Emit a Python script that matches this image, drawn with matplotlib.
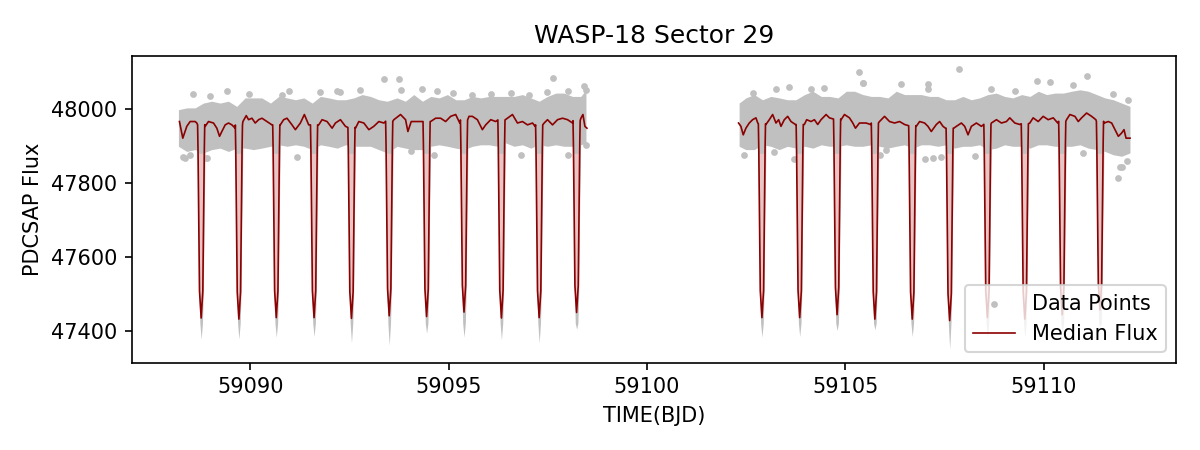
import matplotlib
matplotlib.use("Agg")
import matplotlib.pyplot as plt
import numpy as np

# median flux, first orbit block (outside transits)
seg1_time = [59088.216, 59088.300, 59088.401, 59088.485, 59088.611, 59088.653,
             59088.864, 59088.948, 59089.074, 59089.158, 59089.226, 59089.284, 59089.369, 59089.453, 59089.537, 59089.621,
             59089.815, 59089.899, 59089.958, 59090.042, 59090.126, 59090.211, 59090.295, 59090.421, 59090.547,
             59090.757, 59090.842, 59090.926, 59091.052, 59091.137, 59091.263, 59091.364, 59091.473,
             59091.726, 59091.810, 59091.936, 59092.063, 59092.147, 59092.273, 59092.399,
             59092.652, 59092.736, 59092.863, 59092.989, 59093.114, 59093.241, 59093.367,
             59093.620, 59093.788, 59093.914, 59093.973, 59094.057, 59094.209, 59094.335,
             59094.545, 59094.672, 59094.798, 59094.924, 59095.050, 59095.177, 59095.280,
             59095.513, 59095.598, 59095.724, 59095.850, 59095.934, 59096.061, 59096.187,
             59096.481, 59096.608, 59096.734, 59096.860, 59096.987, 59097.113, 59097.180,
             59097.407, 59097.491, 59097.618, 59097.744, 59097.870, 59097.996, 59098.123,
             59098.333, 59098.384, 59098.434, 59098.485]
seg1_flux = [47966, 47921, 47953, 47966, 47966, 47962,
             47953, 47966, 47962, 47948, 47926, 47939, 47957, 47962, 47957, 47948,
             47966, 47982, 47971, 47975, 47962, 47971, 47975, 47966, 47957,
             47957, 47971, 47975, 47957, 47944, 47962, 47985, 47957,
             47957, 47971, 47966, 47948, 47962, 47971, 47953,
             47948, 47966, 47962, 47944, 47953, 47966, 47962,
             47971, 47985, 47971, 47939, 47966, 47966, 47966,
             47966, 47975, 47975, 47966, 47980, 47985, 47962,
             47980, 47980, 47971, 47944, 47957, 47971, 47966,
             47975, 47985, 47962, 47966, 47957, 47962, 47953,
             47962, 47971, 47957, 47971, 47975, 47971, 47962,
             47975, 47985, 47953, 47948]

# second orbit block
seg2_time = [59102.306, 59102.365, 59102.424, 59102.491, 59102.576, 59102.660, 59102.744, 59102.790,
             59102.996, 59103.081, 59103.165, 59103.249, 59103.316, 59103.375, 59103.459, 59103.544, 59103.628, 59103.740,
             59103.964, 59104.023, 59104.133, 59104.217, 59104.301, 59104.385, 59104.512, 59104.596,
             59104.890, 59104.975, 59105.101, 59105.185, 59105.252, 59105.353, 59105.522, 59105.630,
             59105.858, 59105.985, 59106.111, 59106.237, 59106.364, 59106.490,
             59106.784, 59106.869, 59106.995, 59107.079, 59107.163, 59107.290, 59107.374, 59107.458, 59107.520,
             59107.730, 59107.795, 59107.921, 59108.005, 59108.089, 59108.173, 59108.300, 59108.426,
             59108.678, 59108.805, 59108.931, 59109.057, 59109.141, 59109.268, 59109.394,
             59109.646, 59109.730, 59109.857, 59109.983, 59110.109, 59110.236, 59110.350,
             59110.572, 59110.656, 59110.783, 59110.867, 59110.951, 59111.077, 59111.204, 59111.310,
             59111.520, 59111.624, 59111.709, 59111.793, 59111.877, 59111.961, 59112.020, 59112.071, 59112.172]
seg2_flux = [47962, 47953, 47930, 47948, 47962, 47971, 47976, 47962,
             47958, 47971, 47985, 47962, 47971, 47953, 47971, 47980, 47966, 47958,
             47958, 47971, 47966, 47971, 47958, 47971, 47985, 47976,
             47971, 47985, 47976, 47962, 47948, 47962, 47962, 47958,
             47966, 47980, 47966, 47962, 47966, 47958,
             47953, 47966, 47962, 47953, 47939, 47958, 47966, 47953, 47948,
             47948, 47953, 47962, 47953, 47930, 47953, 47962, 47953,
             47962, 47971, 47962, 47966, 47976, 47962, 47958,
             47962, 47976, 47966, 47980, 47971, 47976, 47962,
             47971, 47985, 47980, 47966, 47976, 47989, 47980, 47971,
             47962, 47966, 47962, 47944, 47926, 47935, 47944, 47921, 47921]

# transit mid times, median minimum, lowest data point
transit_time = [59088.763, 59089.714, 59090.656, 59091.608, 59092.551, 59093.502,
                59094.444, 59095.387, 59096.330, 59097.281, 59098.224,
                59102.895, 59103.847, 59104.789, 59105.741, 59106.683,
                59107.626, 59108.577, 59109.520, 59110.463, 59111.414]
transit_bottom = [47434, 47431, 47435, 47435, 47433, 47440, 47438, 47450, 47434, 47435, 47449,
                  47435, 47435, 47443, 47431, 47431, 47427, 47435, 47431, 47443, 47456]
transit_low = [47377, 47377, 47382, 47384, 47367, 47361, 47393, 47382, 47375, 47366, 47404,
               47382, 47384, 47400, 47402, 47384, 47350, 47382, 47382, 47395, 47410]

# edges of the dense cloud of data points
band1_time = [59088.19, 59088.40, 59088.61, 59088.82, 59089.03, 59089.24, 59089.45, 59089.66, 59089.87, 59090.08,
              59090.29, 59090.51, 59090.72, 59090.93, 59091.14, 59091.35, 59091.56, 59091.77, 59091.98, 59092.19,
              59092.40, 59092.61, 59092.82, 59093.03, 59093.24, 59093.45, 59093.70, 59093.91, 59094.12, 59094.34,
              59094.55, 59094.76, 59094.97, 59095.18, 59095.39, 59095.60, 59095.81, 59096.02, 59096.23, 59096.44,
              59096.65, 59096.86, 59097.07, 59097.28, 59097.49, 59097.70, 59097.91, 59098.12, 59098.33, 59098.46]
band1_upper = [47998, 48003, 48003, 48016, 48021, 48016, 48021, 48007, 48030, 48030,
               48030, 48016, 48034, 48030, 48025, 48030, 48016, 48034, 48030, 48025,
               48025, 48030, 48039, 48034, 48025, 48021, 48030, 48021, 48039, 48021,
               48034, 48030, 48039, 48025, 48025, 48034, 48030, 48034, 48034, 48034,
               48034, 48039, 48030, 48021, 48034, 48043, 48043, 48034, 48034, 48052]
band1_lower = [47899, 47885, 47890, 47881, 47890, 47894, 47885, 47894, 47894, 47890,
               47894, 47899, 47903, 47899, 47903, 47899, 47890, 47903, 47899, 47894,
               47903, 47899, 47899, 47899, 47890, 47881, 47899, 47894, 47890, 47890,
               47899, 47903, 47899, 47894, 47890, 47899, 47903, 47903, 47899, 47908,
               47899, 47903, 47894, 47903, 47899, 47903, 47899, 47899, 47903, 47908]
band2_time = [59102.32, 59102.49, 59102.70, 59102.91, 59103.12, 59103.33, 59103.54, 59103.75, 59103.97, 59104.18,
              59104.39, 59104.60, 59104.81, 59105.02, 59105.23, 59105.44, 59105.65, 59105.86, 59106.07, 59106.28,
              59106.49, 59106.70, 59106.91, 59107.12, 59107.33, 59107.54, 59107.75, 59107.96, 59108.17, 59108.38,
              59108.59, 59108.80, 59109.01, 59109.22, 59109.44, 59109.65, 59109.86, 59110.07, 59110.28, 59110.49,
              59110.70, 59110.91, 59111.12, 59111.33, 59111.54, 59111.75, 59111.96, 59112.17]
band2_upper = [48016, 48030, 48039, 48025, 48034, 48030, 48025, 48025, 48039, 48048,
               48034, 48034, 48030, 48048, 48048, 48039, 48034, 48034, 48030, 48048,
               48039, 48039, 48039, 48034, 48034, 48025, 48025, 48034, 48025, 48030,
               48039, 48043, 48034, 48030, 48039, 48034, 48048, 48039, 48043, 48043,
               48048, 48052, 48048, 48039, 48030, 48025, 48016, 48007]
band2_lower = [47899, 47890, 47890, 47903, 47899, 47890, 47899, 47894, 47899, 47894,
               47903, 47899, 47899, 47903, 47899, 47899, 47903, 47899, 47894, 47899,
               47903, 47894, 47903, 47903, 47899, 47903, 47894, 47899, 47899, 47903,
               47890, 47894, 47903, 47899, 47899, 47894, 47903, 47903, 47899, 47899,
               47899, 47903, 47894, 47890, 47885, 47876, 47872, 47881]

# scattered points outside the dense cloud
outlier_time = [59088.569, 59089.411, 59088.990, 59089.958, 59090.968, 59091.768, 59092.273, 59092.778,
                59093.367, 59093.746, 59093.788, 59094.335, 59094.714, 59095.118, 59095.598, 59096.061,
                59096.565, 59097.028, 59097.491, 59097.618, 59097.997, 59098.418, 59098.460,
                59090.800, 59092.190,
                59088.316, 59088.485, 59088.906, 59091.178, 59096.818, 59098.460,
                59088.359, 59088.860, 59094.040, 59094.630, 59097.997,
                59102.660, 59103.249, 59103.586, 59104.133, 59104.470, 59105.353, 59105.438, 59106.406,
                59107.079, 59107.862, 59108.678, 59109.268, 59109.815, 59110.151, 59110.741, 59111.077,
                59111.751, 59112.130, 59105.440, 59107.080,
                59102.449, 59103.207, 59105.858, 59107.205, 59108.258, 59110.993, 59112.088, 59111.919, 59111.876,
                59103.710, 59106.030, 59107.000, 59107.420, 59111.960]
outlier_flux = [48041, 48050, 48034, 48041, 48048, 48045, 48046, 48052,
                48082, 48082, 48052, 48054, 48050, 48043, 48039, 48041,
                48043, 48039, 48046, 48084, 48050, 48063, 48052,
                48039, 48048,
                47870, 47876, 47867, 47869, 47876, 47903,
                47867, 47867, 47885, 47876, 47876,
                48043, 48054, 48060, 48054, 48057, 48100, 48070, 48068,
                48055, 48107, 48054, 48048, 48077, 48072, 48066, 48090,
                48041, 48025, 48070, 48068,
                47876, 47883, 47876, 47867, 47872, 47881, 47858, 47844, 47813,
                47864, 47890, 47864, 47870, 47844]

# transit profile (days from mid-transit, fraction of depth)
dip_offset = np.array([-0.09, -0.08, -0.06, -0.042, 0.0, 0.042, 0.06, 0.08, 0.09])
dip_frac = np.array([0.0, 0.12, 0.51, 0.86, 1.0, 0.86, 0.51, 0.12, 0.0])
col_offset = np.array([-0.1, -0.088, -0.072, -0.055, -0.033, 0.0, 0.033, 0.055, 0.072, 0.088, 0.1])


def median_curve(seg_time, seg_flux):
    t = list(seg_time)
    f = list(seg_flux)
    for tc, fb in zip(transit_time, transit_bottom):
        if tc < seg_time[0] or tc > seg_time[-1]:
            continue
        base = np.interp(tc, seg_time, seg_flux)
        t += list(tc + dip_offset)
        f += list(base - dip_frac * (base - fb))
    order = np.argsort(t)
    return np.array(t)[order], np.array(f)[order]


t1, f1 = median_curve(seg1_time, seg1_flux)
t2, f2 = median_curve(seg2_time, seg2_flux)
med_time = np.concatenate([t1, [np.nan], t2])
med_flux = np.concatenate([f1, [np.nan], f2])

fig, ax = plt.subplots(figsize=(8, 3), dpi=150)
grey = 'silver'

# in-transit points: grey column round each dip, light pink inside the walls
for tc, fb, low in zip(transit_time, transit_bottom, transit_low):
    col_low = [47895, 47800, 47690, 47510, 47420, low, 47420, 47510, 47690, 47800, 47895]
    ax.fill_between(tc + col_offset, col_low, 47950, color=grey, lw=0, zorder=1)
    vx = tc + dip_offset
    vy = 47960 - dip_frac * (47960 - fb)
    ax.fill_between(vx, vy, 47880, where=vy < 47880, interpolate=True,
                    color='#e9c6c6', lw=0, zorder=1.5)

ax.fill_between(band1_time, band1_lower, band1_upper, color=grey, lw=0, zorder=1)
ax.fill_between(band2_time, band2_lower, band2_upper, color=grey, lw=0, zorder=1)
ax.scatter(outlier_time, outlier_flux, s=5, color=grey, label='Data Points', zorder=1)

ax.plot(med_time, med_flux, color='darkred', lw=0.8, label='Median Flux', zorder=2)

ax.set_xlim(59087.02, 59113.33)
ax.set_ylim(47313, 48144)
ax.set_title('WASP-18 Sector 29')
ax.set_xlabel('TIME(BJD)')
ax.set_ylabel('PDCSAP Flux')
ax.legend(loc='lower right')

fig.subplots_adjust(left=0.11, right=0.98, bottom=0.194, top=0.876)
fig.savefig('out.png', dpi=150)
